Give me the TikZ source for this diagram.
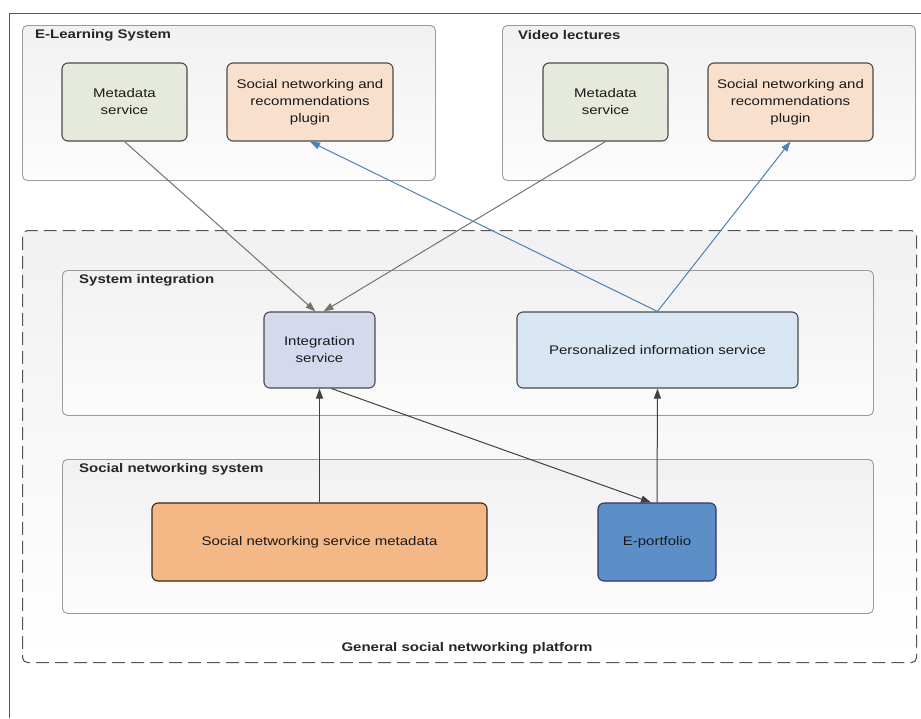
\documentclass[tikz,border=0pt]{standalone}
\usepackage{fontspec}
\setmainfont[FakeStretch=1.2]{Liberation Sans}
\usetikzlibrary{arrows.meta}
\definecolor{framec}{HTML}{555555}
\definecolor{contborder}{HTML}{9A9A9A}
\definecolor{conttop}{HTML}{F1F1F1}
\definecolor{contbot}{HTML}{FCFCFC}
\definecolor{metafill}{HTML}{E5EADC}
\definecolor{plugfill}{HTML}{F9E0CD}
\definecolor{integfill}{HTML}{D4D9EE}
\definecolor{persfill}{HTML}{D8E5F2}
\definecolor{snsfill}{HTML}{F3B886}
\definecolor{eportfill}{HTML}{5C8FC8}
\definecolor{greenarrow}{HTML}{6E7862}
\definecolor{bluearrow}{HTML}{4C80B6}
\definecolor{darkarrow}{HTML}{404040}
\definecolor{boxborder}{HTML}{4A4A4A}
\begin{document}
\begin{tikzpicture}[x=1pt,y=-1pt,
  container/.style={draw=contborder, top color=conttop, bottom color=contbot, rounded corners=5pt, line width=0.9pt, anchor=north west, inner sep=0pt},
  svc/.style={draw=boxborder, rounded corners=6pt, line width=1.1pt, align=center, inner sep=0pt, font=\fontsize{12.5}{17}\selectfont, text=black!90},
  titlelbl/.style={font=\bfseries\fontsize{12.5}{14}\selectfont, anchor=west, inner sep=0pt, text=black!85},
  tip/.style={-{Triangle[length=10pt,width=7pt]}},
]
\useasboundingbox (0,0) rectangle (921,718);
\fill[white] (0,0) rectangle (921,718);
% outer frame
\coordinate (fa) at (9,718);
\coordinate (fb) at (9,13);
\coordinate (fc) at (921,13);
\draw[framec, line width=1pt] (fa) -- (fb) -- (fc);

% containers
\node[container, minimum width=413, minimum height=155] (elearn) at (22,25) {};
\node[container, minimum width=413, minimum height=155] (video) at (502,25) {};
\node[container, draw=framec, dash pattern=on 13pt off 6pt, line width=1.1pt, top color=conttop, bottom color=white, minimum width=894, minimum height=432] (platform) at (22,230) {};
\node[container, minimum width=811, minimum height=145] (sysint) at (62,270) {};
\node[container, minimum width=811, minimum height=154] (snsys) at (62,459) {};

% titles
\node[titlelbl] (t1) at (35,35) {E-Learning System};
\node[titlelbl] (t2) at (518,35) {Video lectures};
\node[titlelbl] (t3) at (79,280) {System integration};
\node[titlelbl] (t4) at (79,469) {Social networking system};
\node[titlelbl, anchor=center] (t5) at (467,648) {General social networking platform};

% services
\node[svc, fill=metafill, minimum width=125, minimum height=78] (ms1) at (124.5,102) {Metadata\\service};
\node[svc, fill=plugfill, minimum width=166, minimum height=78] (sp1) at (310,102) {Social networking and\\recommendations\\plugin};
\node[svc, fill=metafill, minimum width=125, minimum height=78] (ms2) at (605.5,102) {Metadata\\service};
\node[svc, fill=plugfill, minimum width=165, minimum height=78] (sp2) at (790.5,102) {Social networking and\\recommendations\\plugin};
\node[svc, fill=integfill, minimum width=111, minimum height=76] (integ) at (319.5,350) {Integration\\service};
\node[svc, fill=persfill, minimum width=281, minimum height=76] (pers) at (657.5,350) {Personalized information service};
\node[svc, fill=snsfill, draw=black!70!brown, minimum width=335, minimum height=78] (snsm) at (319.5,542) {Social networking service metadata};
\node[svc, fill=eportfill, draw=black!60!blue!60!gray, minimum width=118, minimum height=78] (eport) at (657,542) {E-portfolio};

% connectors
\draw[greenarrow, line width=1pt, tip] (ms1.south) -- ([xshift=-4pt]integ.north);
\draw[greenarrow, line width=1pt, tip] (ms2.south) -- ([xshift=4pt]integ.north);
\draw[bluearrow, line width=1pt, tip] (pers.north) -- (sp1.south);
\draw[bluearrow, line width=1pt, tip] (pers.north) -- (sp2.south);
\draw[darkarrow, line width=1pt, tip] (snsm.north) -- (integ.south);
\draw[darkarrow, line width=1pt, tip] ([xshift=12pt]integ.south) -- ([xshift=-6pt]eport.north);
\draw[darkarrow, line width=1pt, tip] (eport.north) -- (pers.south);
\end{tikzpicture}
\end{document}
